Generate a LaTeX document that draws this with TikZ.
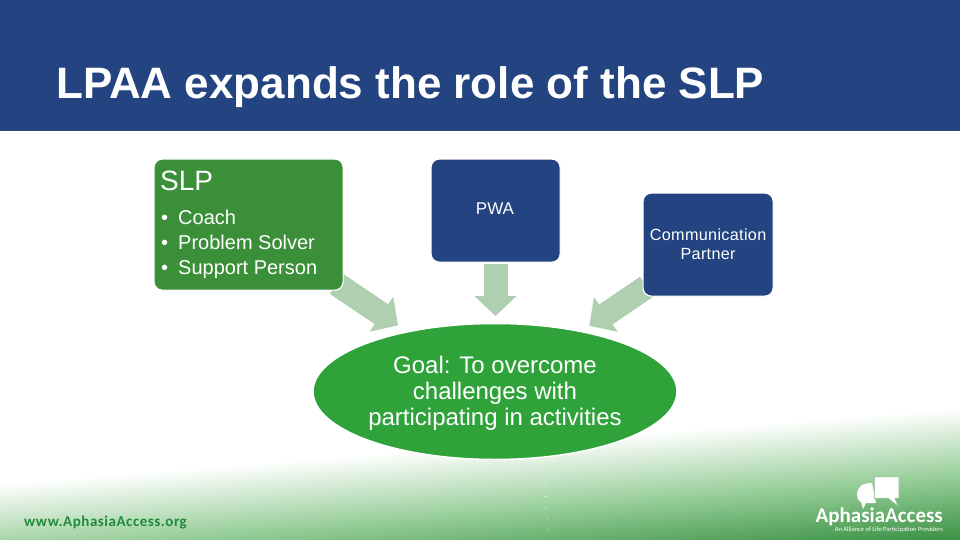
\documentclass[tikz,border=0pt]{standalone}
\usepackage{fontspec}
\setmainfont{Liberation Sans}
\newfontfamily\carlito{Carlito}
\usetikzlibrary{arrows.meta}
\definecolor{navy}{HTML}{234480}
\definecolor{boxgreen}{HTML}{3A8F38}
\definecolor{goalgreen}{HTML}{2FA33A}
\definecolor{arrowgreen}{HTML}{AFCFB0}
\definecolor{footgreen}{HTML}{2F8A3A}
\definecolor{footmid}{HTML}{94CC96}
\definecolor{urlgreen}{HTML}{1F8A38}
\tikzset{
  x=1pt,y=-1pt,
  box/.style={rounded corners=8pt,draw=white,line width=1.2pt,text=white,inner sep=0pt,anchor=north west},
  bluebox/.style={box,fill=navy,align=center,font=\fontsize{16.2}{19}\selectfont},
  blockarrow/.style={arrowgreen,line width=24pt,-{Triangle[width=41pt,length=20pt,fill=arrowgreen]}},
  label/.style={text=white,inner sep=0pt,anchor=base west},
}
\begin{document}
\begin{tikzpicture}
\useasboundingbox (0,0) rectangle (960,540);
\fill[white] (0,0) rectangle (960,540);
% ground gradient
\begin{scope}
\clip (0,0) rectangle (960,540);
\begin{scope}[transform canvas={rotate around={4.5:(480,540)}}]
\shade[top color=white,bottom color=footgreen,middle color=footmid] (-300,446) rectangle (1300,585);
\fill[footgreen] (-300,584.5) rectangle (1300,700);
\end{scope}
\end{scope}
% header
\fill[navy] (0,0) rectangle (960,131);
\node[text=white,inner sep=0pt,anchor=base west,font=\fontsize{44}{48}\bfseries\selectfont] (title) at (56,99) {LPAA expands the role of the SLP};
% targets
\coordinate (tipa) at (398,325.4);
\coordinate (tipb) at (495.5,316);
\coordinate (tipc) at (589.3,325.7);
\coordinate (startc) at (646.7,286.7);
\coordinate (starta) at (336.7,284);
\coordinate (startb) at (495.5,264);
% block arrows
\draw[blockarrow] (starta) -- (tipa);
\draw[blockarrow] (startb) -- (tipb);
\draw[blockarrow] (startc) -- (tipc);
% boxes
\node[box,fill=boxgreen,minimum width=189pt,minimum height=131pt] (slp) at (153.5,158.5) {};
\node[label,font=\fontsize{28}{30}\selectfont] (slptitle) at (160,190) {SLP};
\node[label,font=\fontsize{20}{25}\selectfont,anchor=north west] (slplist) at (161,206.5) {%
  \begin{tabular}{@{}l@{\hspace{10pt}}l@{}}
  • & Coach\\[0.3pt]
  • & Problem Solver\\[0.3pt]
  • & Support Person
  \end{tabular}};
\node[bluebox,minimum width=129pt,minimum height=103pt] (pwa) at (430.5,158.5) {};
\node[text=white,inner sep=0pt,anchor=base,font=\fontsize{17}{19}\selectfont] (pwatext) at (495,214.5) {PWA};
\node[bluebox,minimum width=130pt,minimum height=103pt,text width=130pt] (cp) at (642.5,192.5) {\addfontfeature{LetterSpace=2}Communication\\Partner};
% goal
\path[fill=goalgreen,draw=white,line width=1.5pt] (495,391.5) ellipse [x radius=182pt,y radius=68pt];
\node[text=white,inner sep=0pt,align=center,font=\fontsize{24}{26}\selectfont] (goal) at (495,393.5) {Goal: To overcome\\challenges with\\participating in activities};
% dotted trace
\coordinate (dota) at (544,474);
\coordinate (dotb) at (548,532);
\draw[white,line width=.8pt,dash pattern=on 1pt off 10pt] (dota) -- (dotb);
% footer
\node[inner sep=0pt,anchor=base west,text=urlgreen,font=\carlito\fontsize{15}{18}\bfseries\selectfont] (url) at (24,526) {\addfontfeature{LetterSpace=3.5}www.AphasiaAccess.org};
% logo
\fill[white] (857,495) .. controls (857,487) and (862,483) .. (872,483) -- (876,503) -- (866,503) -- (863,509) -- (861,502) .. controls (858,500) and (857,498) .. (857,495) -- cycle;
\path[fill=white,draw=footgreen!55!white,line width=.8pt] (874.3,476.7) -- (899,476.7) -- (899,498.3) -- (895,498.3) -- (898.5,506.7) -- (888,498.3) -- (874.3,498.3) -- cycle;
\node[inner sep=0pt,anchor=base east,text=white,font=\carlito\fontsize{21}{24}\bfseries\selectfont] (logo) at (943,522.5) {AphasiaAccess};
\node[inner sep=0pt,anchor=base east,text=white,font=\carlito\fontsize{6.5}{8}\selectfont] (logosub) at (943,531) {An Alliance of Life Participation Providers};
\end{tikzpicture}
\end{document}
